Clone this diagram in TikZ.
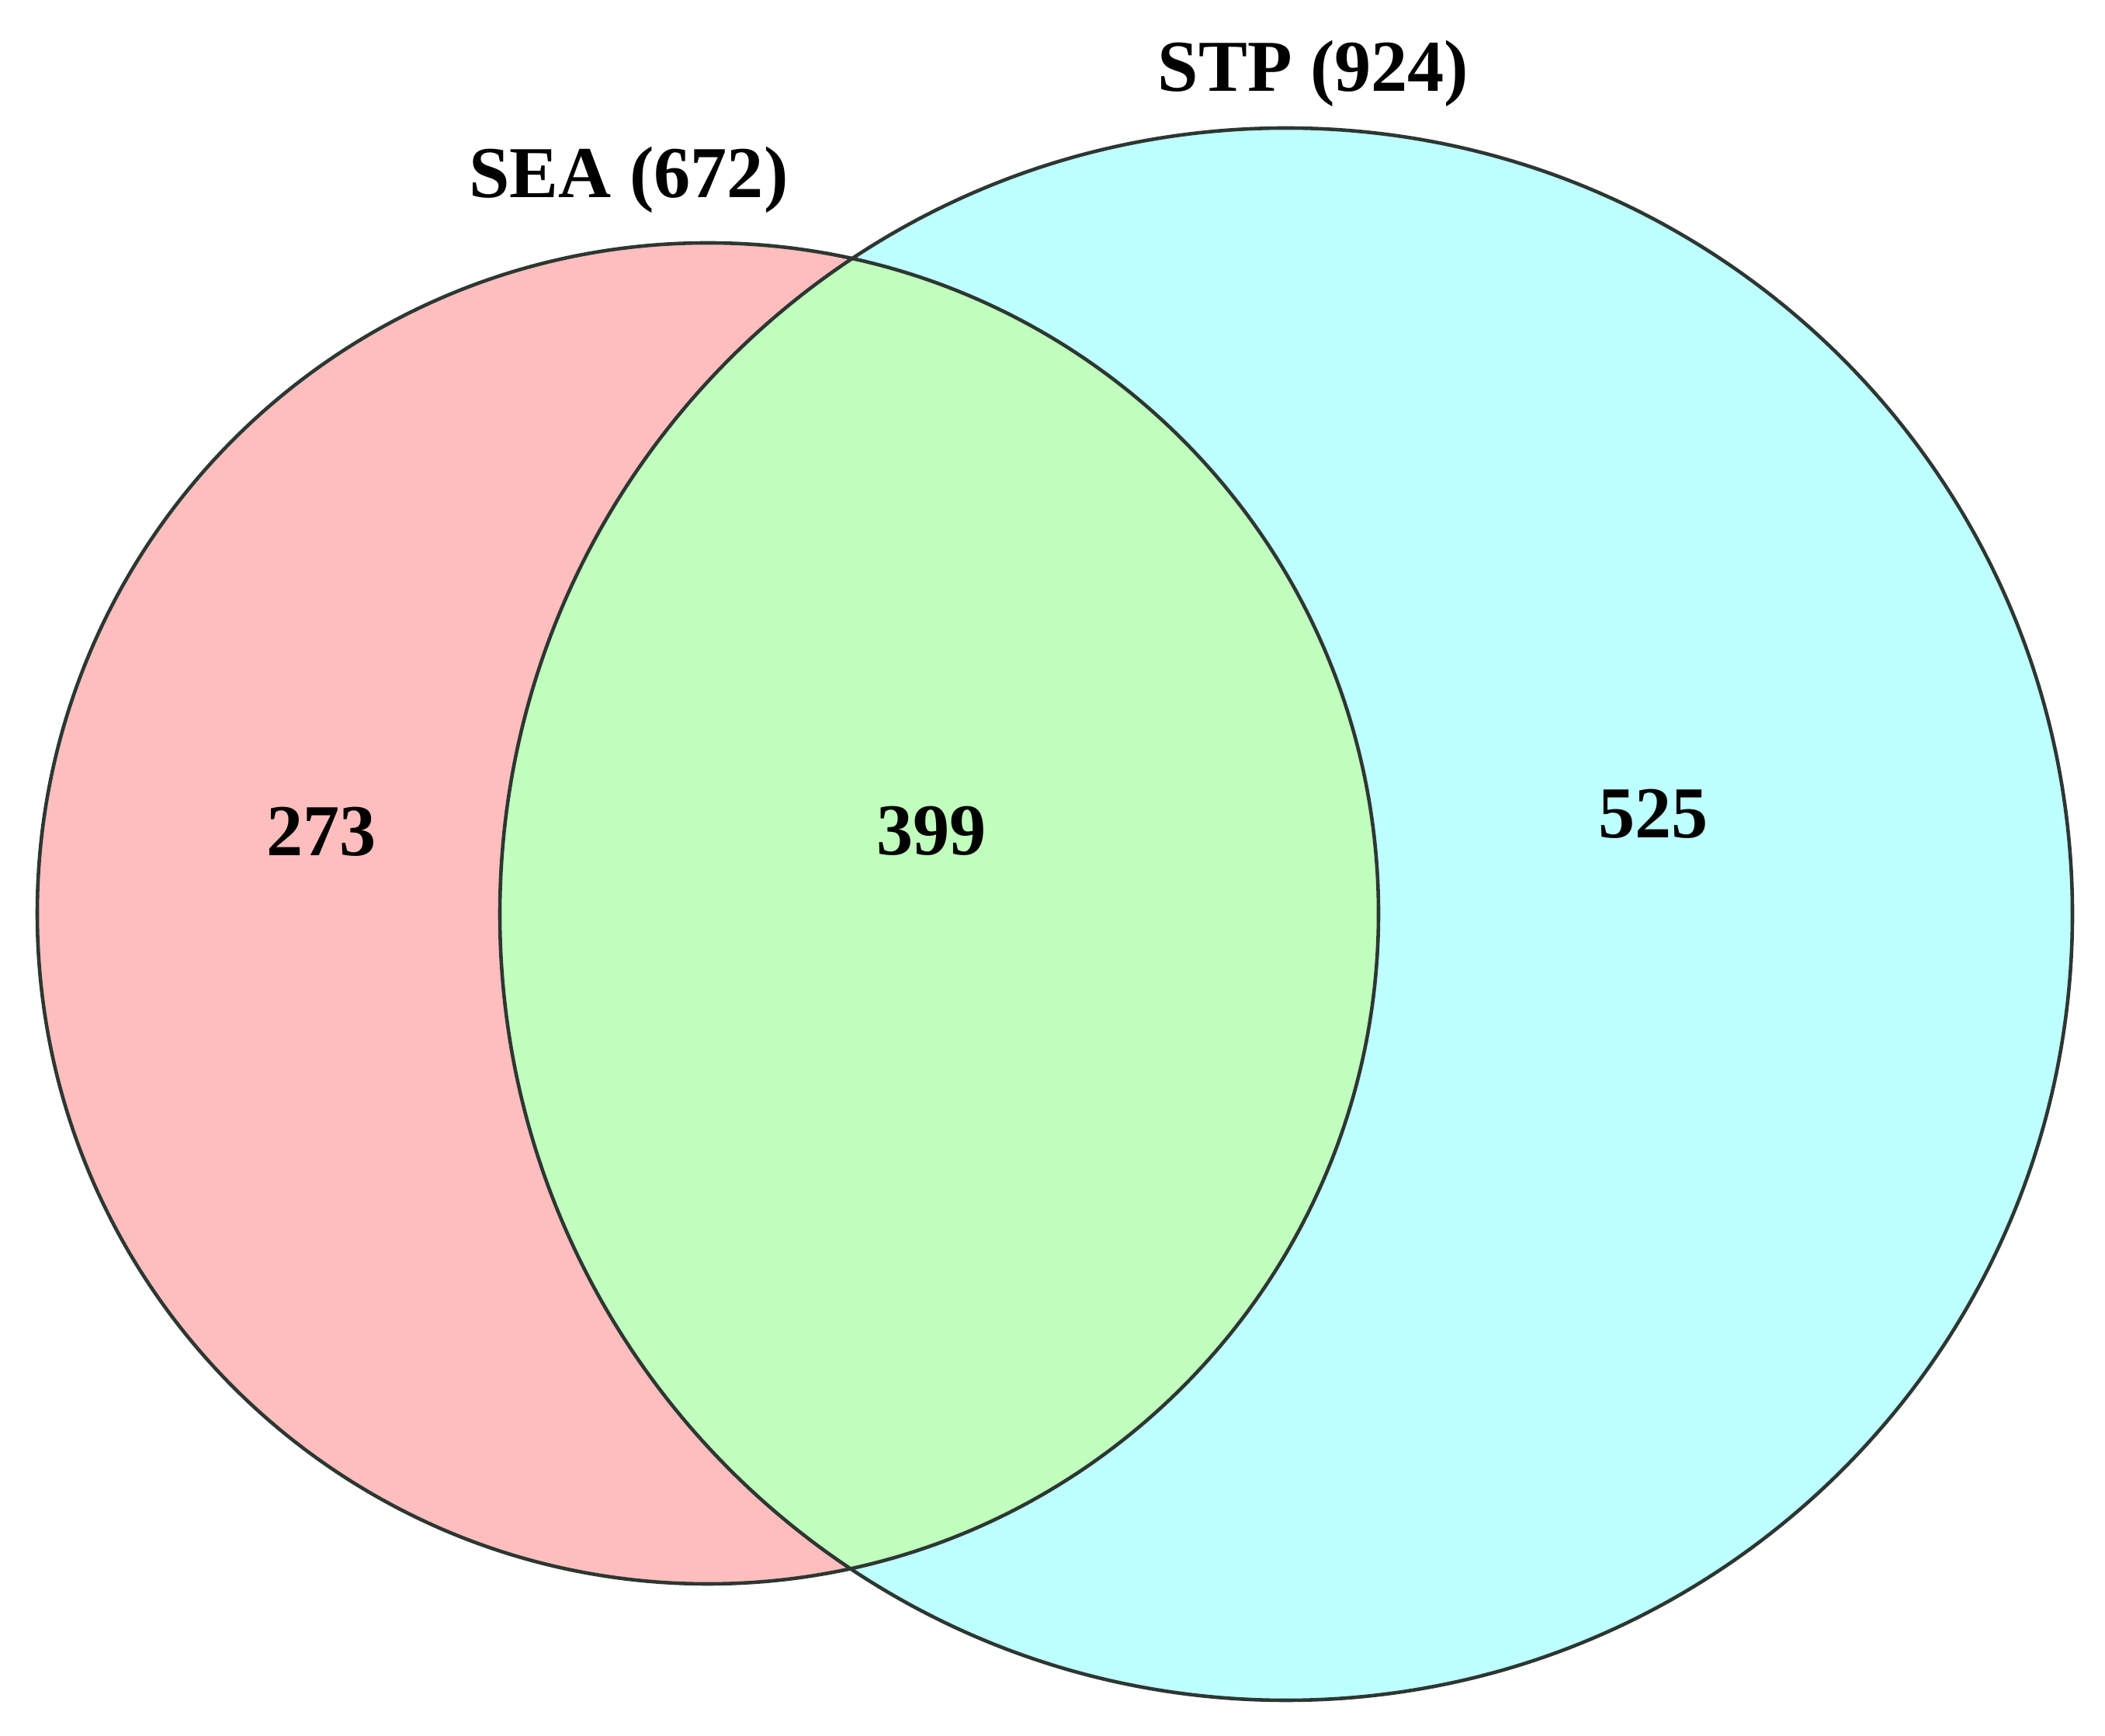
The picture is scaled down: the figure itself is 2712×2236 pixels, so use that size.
\documentclass[tikz,border=0pt]{standalone}
\usepackage{fontspec}
\setmainfont{Liberation Serif}
\definecolor{seafill}{RGB}{255,190,190}
\definecolor{stpfill}{RGB}{190,255,255}
\definecolor{bothfill}{RGB}{192,255,190}
\definecolor{edgecol}{RGB}{45,55,50}
\begin{document}
\begin{tikzpicture}[x=0.01cm,y=0.01cm,
  lbl/.style={font=\fontsize{26.8}{31}\selectfont\bfseries, anchor=base, inner sep=0pt},
  edge/.style={draw=edgecol, line width=1.3pt}]
\useasboundingbox (0,0) rectangle (2712,2236);
\fill[white] (0,0) rectangle (2712,2236);
\coordinate (cA) at (912,1059);
\coordinate (cB) at (1657,1058);
\fill[seafill] (cA) circle[radius=864];
\fill[stpfill] (cB) circle[radius=1013];
\begin{scope}
  \clip (cA) circle[radius=864];
  \fill[bothfill] (cB) circle[radius=1013];
\end{scope}
\draw[edge] (cA) circle[radius=864];
\draw[edge] (cB) circle[radius=1013];
\node[lbl] (stp) at (1692,2118) {STP (924)};
\node[lbl] (sea) at (810,1981) {SEA (672)};
\node[lbl] (n273) at (414,1133) {273};
\node[lbl] (n399) at (1200,1134) {399};
\node[lbl] (n525) at (2130,1156) {525};
\end{tikzpicture}
\end{document}
